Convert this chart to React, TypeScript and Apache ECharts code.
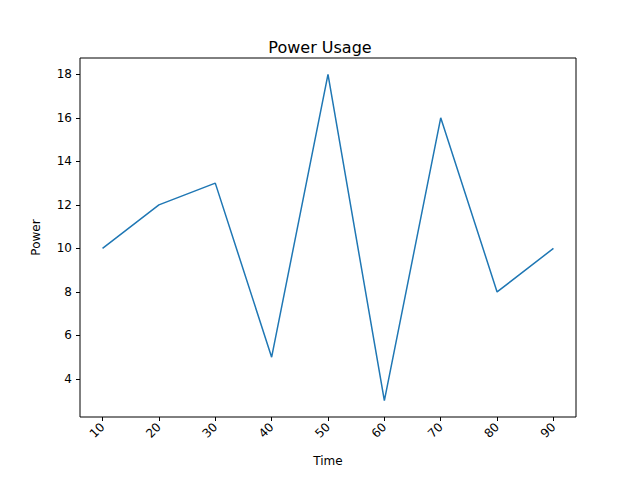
import { useEffect, useRef } from 'react'
import * as echarts from 'echarts'

const times = [10, 20, 30, 40, 50, 60, 70, 80, 90]
const power = [10, 12, 13, 5, 18, 3, 16, 8, 10]
const xTicks = [10, 20, 30, 40, 50, 60, 70, 80, 90]
const yTicks = [4, 6, 8, 10, 12, 14, 16, 18]

export default function App() {
  const ref = useRef<HTMLDivElement>(null)

  useEffect(() => {
    const chart = echarts.init(ref.current, null, { renderer: 'svg' })
    const font = 'DejaVu Sans'
    chart.setOption({
      animation: false,
      textStyle: { fontFamily: font },
      title: {
        text: 'Power Usage',
        left: 'center',
        top: 26,
        textStyle: { fontSize: 16, fontWeight: 'normal', color: '#000', fontFamily: font },
      },
      grid: {
        left: 72, right: 56, top: 50, bottom: 45,
        show: true, borderColor: '#000', borderWidth: 1, backgroundColor: 'transparent',
      },
      xAxis: {
        type: 'value', min: 6, max: 94,
        name: 'Time', nameLocation: 'middle', nameGap: 38,
        nameTextStyle: { fontSize: 12, color: '#000' },
        axisLine: { show: false },
        splitLine: { show: false },
        axisTick: { show: true, customValues: xTicks, length: 4, lineStyle: { color: '#000' } },
        axisLabel: { customValues: xTicks, rotate: 45, fontSize: 12, color: '#000', margin: 8 },
      },
      yAxis: {
        type: 'value', min: 2.25, max: 18.75,
        name: 'Power', nameLocation: 'middle', nameGap: 38,
        nameTextStyle: { fontSize: 12, color: '#000' },
        axisLine: { show: false },
        splitLine: { show: false },
        axisTick: { show: true, customValues: yTicks, length: 4, lineStyle: { color: '#000' } },
        axisLabel: { customValues: yTicks, fontSize: 12, color: '#000', margin: 8 },
      },
      series: [
        {
          type: 'line',
          data: times.map((t, i) => [t, power[i]]),
          showSymbol: false,
          lineStyle: { color: '#1f77b4', width: 1.5 },
          itemStyle: { color: '#1f77b4' },
        },
      ],
    })
    return () => chart.dispose()
  }, [])

  return <div ref={ref} style={{ width: 624, height: 464 }} />
}
